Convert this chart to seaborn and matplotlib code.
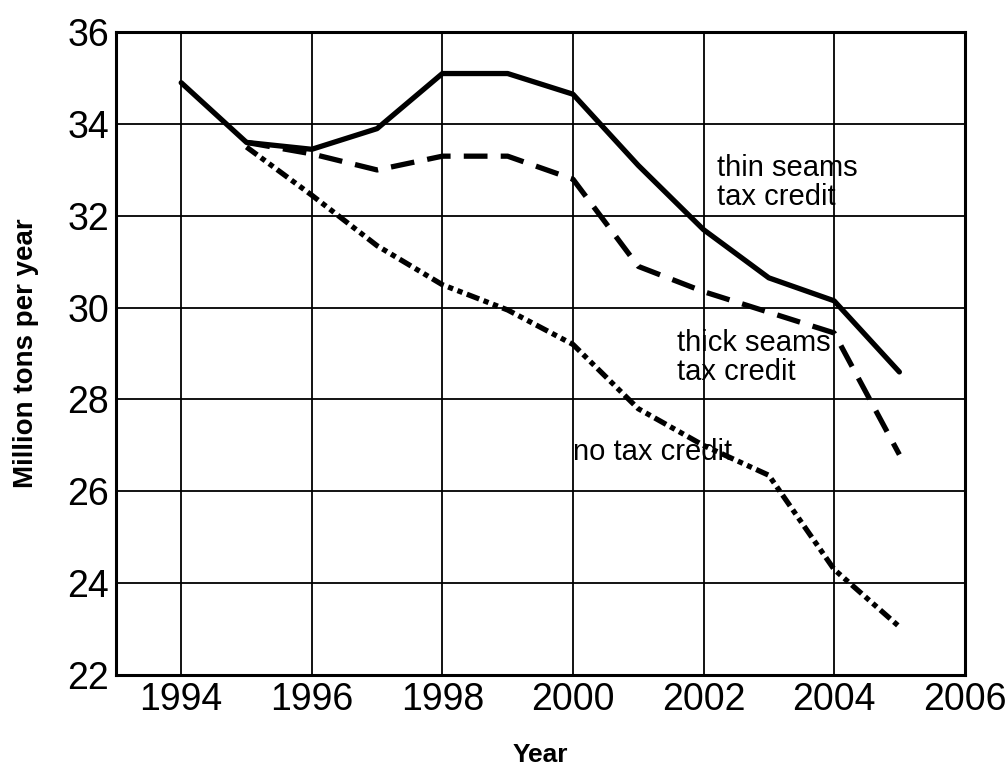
import pandas as pd
import matplotlib
matplotlib.use("Agg")
import matplotlib.pyplot as plt
import seaborn as sns

# values
years_thin = [1994, 1995, 1996, 1997, 1998, 1999, 2000, 2001, 2002, 2003, 2004, 2005]
thin_seams = [34.9, 33.6, 33.45, 33.9, 35.1, 35.1, 34.65, 33.1, 31.7, 30.65, 30.15, 28.6]

years_other = [1995, 1996, 1997, 1998, 1999, 2000, 2001, 2002, 2003, 2004, 2005]
thick_seams = [33.6, 33.35, 33.0, 33.3, 33.3, 32.8, 30.9, 30.35, 29.9, 29.45, 26.8]
no_credit = [33.5, 32.45, 31.35, 30.5, 29.95, 29.2, 27.8, 27.0, 26.35, 24.3, 23.05]

x_ticks = [1994, 1996, 1998, 2000, 2002, 2004, 2006]
y_ticks = [22, 24, 26, 28, 30, 32, 34, 36]

df = pd.concat([
    pd.DataFrame({'Year': years_thin, 'Mt': thin_seams, 'Case': 'thin'}),
    pd.DataFrame({'Year': years_other, 'Mt': thick_seams, 'Case': 'thick'}),
    pd.DataFrame({'Year': years_other, 'Mt': no_credit, 'Case': 'none'}),
])

sns.set_style("white")
plt.rcParams['font.family'] = ['Liberation Sans', 'DejaVu Sans']
plt.rcParams['text.color'] = 'black'
plt.rcParams['axes.labelcolor'] = 'black'
plt.rcParams['xtick.color'] = 'black'
plt.rcParams['ytick.color'] = 'black'

fig = plt.figure(figsize=(10.08, 7.67), dpi=100)
ax = fig.add_axes([0.115, 0.12, 0.842, 0.838])

sns.lineplot(data=df, x='Year', y='Mt', style='Case',
             dashes={'thin': '', 'thick': (4.5, 2.5), 'none': (2.5, 0.9, 1, 0.9, 1, 0.9)},
             color='black', linewidth=3.8, legend=False, ax=ax, zorder=3)

ax.set_xlim(1993, 2006)
ax.set_ylim(22, 36)
ax.set_xticks(x_ticks)
ax.set_yticks(y_ticks)
ax.grid(True, color='black', linewidth=1.3)
ax.tick_params(axis='both', length=0, labelsize=27, pad=5)
for s in ax.spines.values():
    s.set_color('black')
    s.set_linewidth(2.2)

ax.set_xlabel('Year', fontsize=19, fontweight='bold', labelpad=18)
ax.set_ylabel('Million tons per year', fontsize=20, fontweight='bold', labelpad=20)

ax.text(2002.2, 32.1, 'thin seams\ntax credit', fontsize=21, va='bottom', ha='left', linespacing=1.05)
ax.text(2001.6, 28.3, 'thick seams\ntax credit', fontsize=21, va='bottom', ha='left', linespacing=1.05)
ax.text(2000.0, 26.55, 'no tax credit', fontsize=21, va='bottom', ha='left')

fig.savefig('out.png', dpi=100)
